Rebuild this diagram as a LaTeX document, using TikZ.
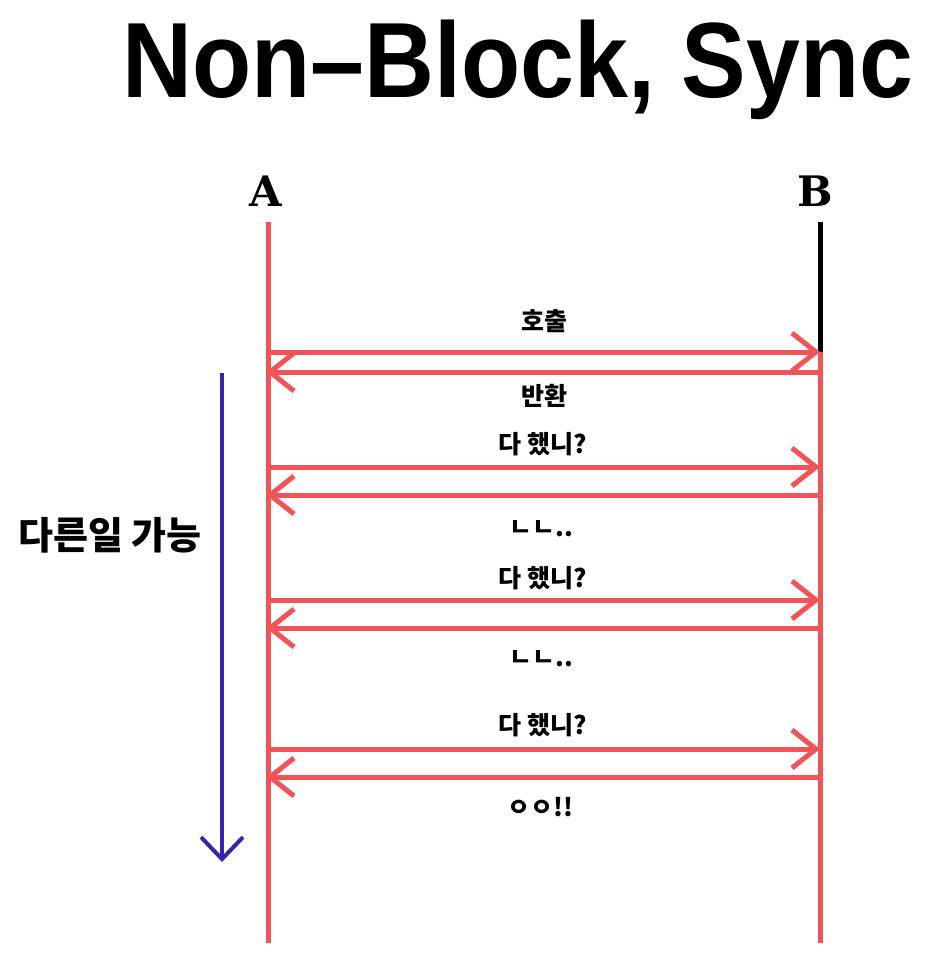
\documentclass[tikz,border=0pt]{standalone}
\usepackage{fontspec}
\usepackage{tikz}
\setmainfont{Liberation Sans}
\newfontfamily\krfont{Noto Sans CJK KR}
\newfontfamily\slabfont{DejaVu Serif}
\usetikzlibrary{arrows.meta, positioning, calc}
\definecolor{lred}{RGB}{240,84,88}
\definecolor{lblue}{RGB}{52,38,178}
\tikzstyle{title} = [font=\fontsize{107}{110}\selectfont\bfseries, anchor=base, inner sep=0]
\tikzstyle{who} = [font=\slabfont\fontsize{42}{44}\selectfont\bfseries, anchor=base, inner sep=0]
\tikzstyle{lifeline} = [line width=5pt, draw=lred]
\tikzstyle{msg} = [line width=5pt, draw=lred, -{Straight Barb[length=24pt, width=38pt]}]
\tikzstyle{msgtext} = [font=\krfont\fontsize{25}{28}\selectfont\bfseries, inner sep=0]
\tikzstyle{busy} = [line width=4pt, draw=lblue, -{Straight Barb[length=22pt, width=42pt]}]

\begin{document}
\begin{tikzpicture}[x=1pt, y=-1pt, node distance=1.5cm]
    \useasboundingbox (0,0) rectangle (938,969);
    \fill[white] (0,0) rectangle (938,969);

    \node (head) [title] at (518,97) {\scalebox{0.905}[1]{Non–Block, Sync}};
    \node (A) [who] at (266,206) {A};
    \node (B) [who] at (815,206) {B};

    % lifelines
    \coordinate (Atop) at (268,222);
    \coordinate (Abot) at (268,943);
    \coordinate (Btop) at (820,222);
    \coordinate (Bcall) at (820,352);
    \coordinate (Bbot) at (820,943);
    \draw[lifeline] (Atop) -- (Abot);
    \draw[line width=5pt, black] (Btop) -- (Bcall);
    \draw[lifeline] (Bcall) -- (Bbot);

    % messages
    \foreach \y [count=\i] in {352, 372, 467, 495, 600, 628, 749, 777} {
        \coordinate (a\i) at (266,\y);
        \coordinate (b\i) at (820,\y);
    }
    \foreach \i in {1,3,5,7} \draw[msg] (a\i) -- (b\i);
    \foreach \i in {2,4,6,8} \draw[msg] (b\i) -- (a\i);

    \node (call) [msgtext] at (544,321) {호출};
    \node (ret) [msgtext] at (544,396) {반환};
    \node (ask1) [msgtext] at (543,444) {다 했니?};
    \node (no1) [msgtext] at (541,529) {ㄴㄴ..};
    \node (ask2) [msgtext] at (543,578) {다 했니?};
    \node (no2) [msgtext] at (541,659) {ㄴㄴ..};
    \node (ask3) [msgtext] at (543,725) {다 했니?};
    \node (yes) [msgtext] at (540,807) {ㅇㅇ!!};

    % other work
    \coordinate (freeS) at (222,373);
    \coordinate (freeE) at (222,862);
    \draw[busy] (freeS) -- (freeE);
    \node (free) [font=\krfont\fontsize{38}{42}\selectfont\bfseries, inner sep=0] at (110,535) {다른일 가능};
\end{tikzpicture}
\end{document}
